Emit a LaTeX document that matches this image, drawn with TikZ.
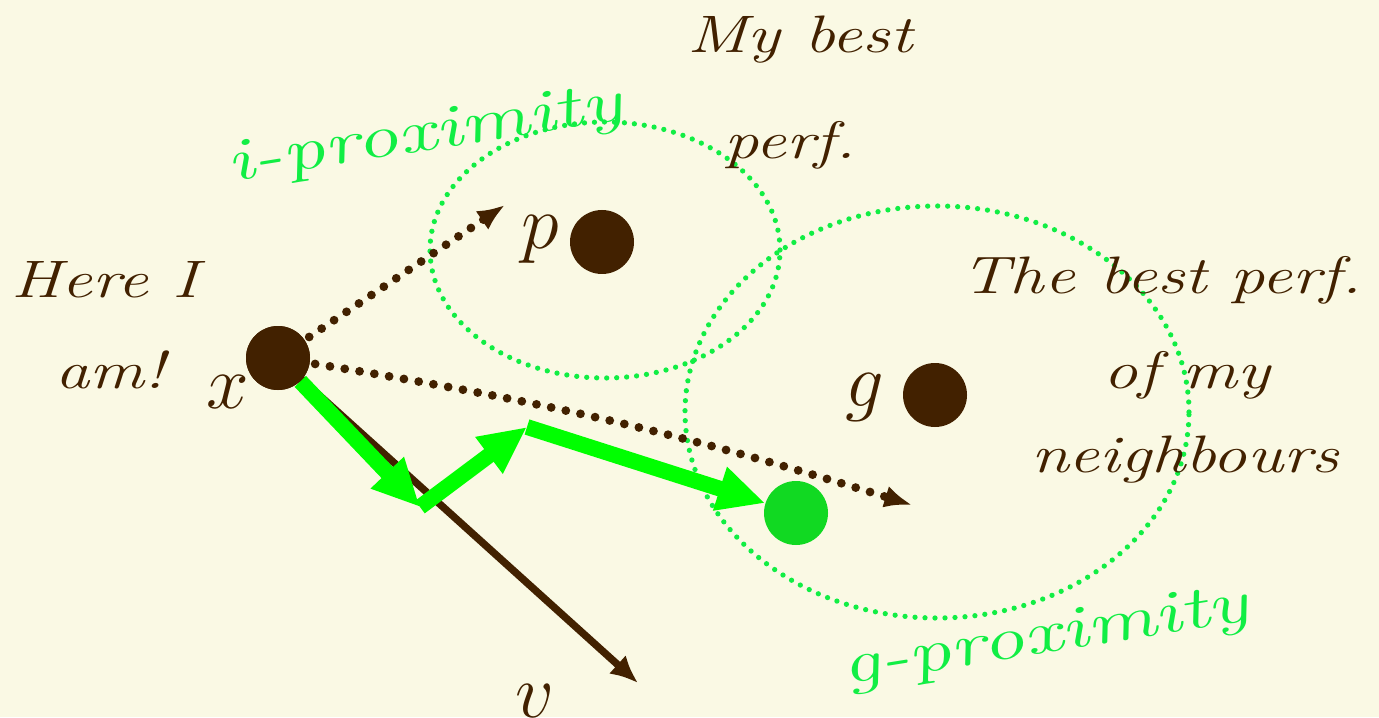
\documentclass[tikz,border=0pt]{standalone}
\usetikzlibrary{arrows.meta}

\begin{document}
\begin{tikzpicture}[>=Latex]

% Colors
\definecolor{bgcream}{RGB}{250,249,228}
\definecolor{dotbrown}{RGB}{66,33,0}
\definecolor{proxgreen}{RGB}{17,238,68}
\definecolor{movegreen}{RGB}{0,255,0}
\definecolor{posgreen}{RGB}{17,217,34}

% Styles
\tikzset{
  point/.style={
    circle,
    fill=dotbrown,
    minimum size=1.28cm,
    inner sep=0pt
  },
  newpoint/.style={
    circle,
    fill=posgreen,
    minimum size=1.28cm,
    inner sep=0pt
  },
  mathlabel/.style={
    text=dotbrown,
    font=\Huge,
    scale=1.75
  },
  hand/.style={
    text=dotbrown,
    font=\itshape\fontsize{30}{36}\selectfont,
    xscale=1.3
  },
  proxlabel/.style={
    text=proxgreen,
    font=\itshape\fontsize{34}{40}\selectfont,
    xscale=1.45,
    rotate=13
  },
  proxregion/.style={
    draw=proxgreen,
    line width=3pt,
    line cap=round,
    dash pattern=on 0pt off 0.2cm
  },
  pull/.style={
    -{Latex[length=0.55cm,width=0.45cm]},
    draw=dotbrown,
    line width=5pt,
    line cap=round,
    dash pattern=on 0pt off 0.3cm,
    shorten <=3pt
  },
  speed/.style={
    -{Latex[length=0.55cm,width=0.5cm]},
    draw=dotbrown,
    line width=4.2pt
  },
  move/.style={
    -{Triangle[length=0.95cm,width=0.85cm]},
    draw=movegreen,
    line width=9pt
  }
}

% Background
\fill[bgcream] (0,0) rectangle (27.58,14.34);
\useasboundingbox (0,0) rectangle (27.58,14.34);

% Proximity regions
\draw[proxregion] (12.10,9.34) ellipse [x radius=3.5cm, y radius=2.56cm];
\draw[proxregion] (18.74,6.10) ellipse [x radius=5.04cm, y radius=4.12cm];

% Coordinates
\coordinate (c1) at (8.40,4.20);
\coordinate (c2) at (10.54,5.80);
\coordinate (pend) at (10.10,10.24);
\coordinate (gend) at (18.24,4.24);
\coordinate (vend) at (12.76,0.68);

% Points
\node[point] (x) at (5.56,7.18) {};
\node[point] (p) at (12.04,9.50) {};
\node[point] (g) at (18.70,6.44) {};
\node[newpoint] (xnew) at (15.92,4.08) {};

% Arrows
\draw[speed] (x.center) -- (vend);
\draw[move] (x) -- (c1);
\draw[move] (c1) -- (c2);
\draw[move] (c2) -- (xnew);
\draw[pull] (x) -- (pend);
\draw[pull] (x) to[bend left=4] (gend);
\node[point] at (x) {};

% Labels
\node[mathlabel] (xlab) at (4.56,6.50) {$x$};
\node[mathlabel] (plab) at (10.80,9.55) {$p$};
\node[mathlabel] (glab) at (17.30,6.40) {$g$};
\node[mathlabel] (vlab) at (10.70,0.32) {$v$};

\node[hand] (here) at (2.10,8.74) {Here I};
\node[hand] (am) at (2.20,6.94) {am!};
\node[hand] (mybest) at (16.0,13.54) {My best};
\node[hand] (myperf) at (15.8,11.44) {perf.};
\node[hand] (best) at (23.24,8.74) {The best perf.};
\node[hand] (ofmy) at (23.74,6.84) {of my};
\node[hand] (neigh) at (23.70,5.14) {neighbours};

\node[proxlabel] (iprox) at (8.5,11.60) {i-proximity};
\node[proxlabel] (gprox) at (20.9,1.55) {g-proximity};

\end{tikzpicture}
\end{document}
